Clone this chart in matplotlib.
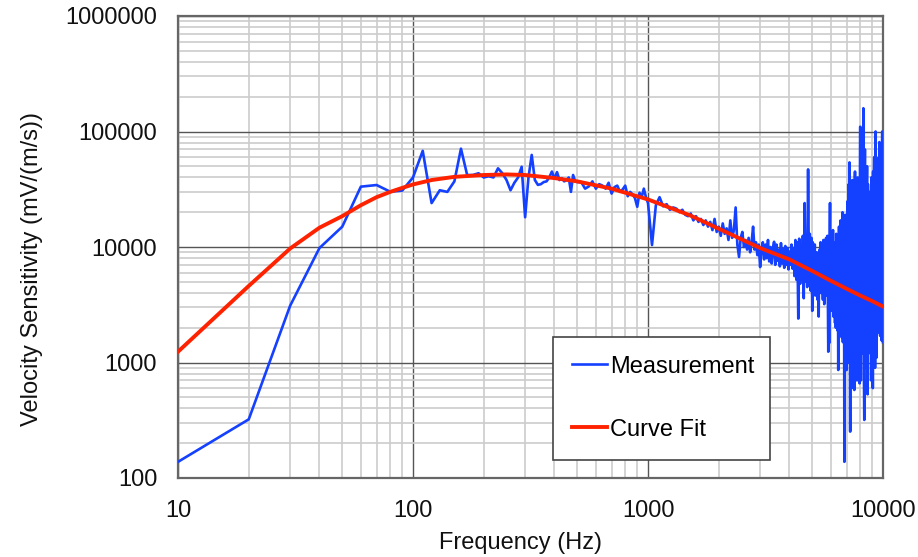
import numpy as np
import matplotlib
matplotlib.use("Agg")
import matplotlib.pyplot as plt
from matplotlib.ticker import FixedLocator, FixedFormatter, NullFormatter, LogLocator

plt.rcParams['font.family'] = ['Liberation Sans', 'DejaVu Sans']

# Measured velocity sensitivity, mV/(m/s), on the analyser's frequency bins
meas_low_hz = np.arange(10, 510, 10)
meas_low = [138, 322, 3100, 9800, 15000, 33300, 34400, 30100, 30800, 40000,
            68000, 24000, 31000, 30000, 37000, 71000, 42000, 42000, 43500, 40000,
            41000, 40000, 48000, 43500, 38000, 31000, 36000, 40000, 49500, 18100,
            40000, 62700, 38000, 34500, 35000, 36500, 37000, 40000, 45000, 39000,
            44500, 38000, 39500, 37000, 38000, 40000, 30000, 42000, 37000, 36500]

meas_mid_hz = np.arange(520, 1020, 20)
meas_mid = [36500, 32000, 33500, 37000, 32000, 35000, 34000, 32000, 36000, 29000,
            33000, 34000, 30000, 31500, 34000, 27500, 30000, 28500, 26500, 22300,
            29500, 27000, 32000, 27000, 24000]

meas_upper_hz = np.arange(1040, 3040, 40)
meas_upper = [10400, 23000, 27000, 22500, 23500, 21000, 22000, 21500, 20000, 21000,
              19000, 18500, 19500, 17000, 18500, 16500, 17500, 15500, 17000, 15000,
              16500, 14000, 17500, 13500, 15000, 12500, 16000, 13000, 14500, 11500,
              17000, 12000, 14000, 22000, 10500, 8200, 12000, 13500, 10000, 11500,
              9500, 12000, 9000, 11000, 15000, 9500, 11000, 8500, 10500, 6700]

meas_high_hz = np.arange(3040, 5040, 40)
meas_high = [9500, 11000, 7800, 10500, 8000, 11500, 7500, 10000, 7200, 9800,
             11100, 7000, 10500, 7600, 9500, 6800, 10800, 7200, 9600, 6600,
             10200, 7000, 9800, 6400, 9130, 7000, 10500, 6500, 9800, 5600,
             11500, 5200, 11000, 2400, 11800, 4800, 10500, 5200, 12500, 3600,
             24000, 5000, 12000, 4500, 47000, 6000, 13000, 4200, 12000, 2800]

meas_top_hz = np.arange(5025, 10025, 25)
meas_top = [11000, 4200, 9500, 5000, 10500, 3800, 8500, 4500, 9000, 6000,
            3480, 8000, 2500, 7500, 9500, 4000, 11000, 5000, 10000, 4000,
            8500, 3500, 11500, 5500, 3200, 9000, 4500, 8000, 12000, 3800,
            9500, 12500, 4000, 1240, 6000, 1470, 10000, 24000, 5000, 3000,
            12000, 2800, 9000, 3500, 14000, 2500, 10000, 3000, 11000, 2200,
            8000, 2000, 13000, 3200, 9800, 1900, 12000, 861, 3000, 15000,
            2500, 10000, 4000, 17000, 2200, 12000, 1650, 9000, 20000, 1500,
            11000, 3000, 9400, 138, 6000, 19000, 1200, 14000, 2500, 860,
            18000, 2200, 25000, 1000, 15000, 35000, 2000, 54000, 3000, 252,
            12000, 24000, 1500, 20000, 800, 38000, 2500, 600, 22000, 30000,
            1800, 578, 26000, 45000, 2000, 800, 25000, 35000, 1500, 700,
            30000, 40000, 2000, 900, 28000, 39000, 1500, 660, 30000, 110000,
            2500, 700, 60000, 20000, 1200, 35000, 90000, 1800, 45000, 159000,
            3000, 700, 318, 25000, 70000, 1500, 900, 30000, 40000, 1200,
            25000, 50000, 2000, 530, 35000, 20000, 1200, 2500, 30000, 1500,
            25000, 2240, 28000, 3000, 20000, 700, 40000, 2000, 25000, 800,
            30000, 600, 45000, 2500, 1000, 35000, 60000, 2000, 30000, 900,
            40000, 100000, 1500, 3000, 1100, 50000, 25000, 2000, 1800, 35000,
            40000, 2500, 3000, 60000, 30000, 81000, 2000, 45000, 1700, 25000,
            1780, 3000, 50000, 20000, 1550, 35000, 100000, 3000, 60000, 1500]

# Fitted sensitivity model evaluated at a few frequencies
fit_hz = [10, 20, 30, 40, 50, 60, 70, 80, 90, 100, 120, 150, 200, 250, 300,
          400, 500, 700, 1000, 1500, 2000, 3000, 4000, 5000, 6000, 7000,
          8000, 9000, 10000]
fit_vals = [1240, 4600, 9700, 14700, 18500, 23000, 27000, 30000, 32500, 34800,
            38000, 40500, 42000, 42500, 42000, 39500, 37000, 32000, 25800,
            18900, 14400, 9800, 7800, 6200, 5100, 4350, 3800, 3400, 3050]

x_ticks = [10, 100, 1000, 10000]
x_tick_labels = ["10", "100", "1000", "10000"]
y_ticks = [100, 1000, 10000, 100000, 1000000]
y_tick_labels = ["100", "1000", "10000", "100000", "1000000"]

freq = np.concatenate([meas_low_hz, meas_mid_hz, meas_upper_hz, meas_high_hz, meas_top_hz])
sens = np.concatenate([meas_low, meas_mid, meas_upper, meas_high, meas_top])

fig = plt.figure(figsize=(9.18, 5.57), dpi=100)
ax = fig.add_axes([178 / 918, 1 - 478 / 557, 705 / 918, 462 / 557])

ax.plot(freq, sens, color="#1440ff", lw=1.9, label="Measurement", zorder=3)
ax.plot(fit_hz, fit_vals, color="#ff2200", lw=2.8, label="Curve Fit", zorder=4)

ax.set_xscale("log")
ax.set_yscale("log")
ax.set_xlim(10, 10000)
ax.set_ylim(100, 1000000)

ax.xaxis.set_major_locator(FixedLocator(x_ticks))
ax.xaxis.set_major_formatter(FixedFormatter(x_tick_labels))
ax.yaxis.set_major_locator(FixedLocator(y_ticks))
ax.yaxis.set_major_formatter(FixedFormatter(y_tick_labels))
ax.xaxis.set_minor_locator(LogLocator(base=10, subs=np.arange(2, 10)))
ax.yaxis.set_minor_locator(LogLocator(base=10, subs=np.arange(2, 10)))
ax.xaxis.set_minor_formatter(NullFormatter())
ax.yaxis.set_minor_formatter(NullFormatter())

ax.grid(which="minor", color="#cccccc", lw=1.2, zorder=0)
ax.grid(which="major", color="#555555", lw=1.0, zorder=1)
ax.set_axisbelow(True)

ax.tick_params(which="both", length=0)
ax.tick_params(axis="x", pad=16, labelsize=17, colors="#111111")
ax.tick_params(axis="y", pad=15, labelsize=17, colors="#111111")

for s in ax.spines.values():
    s.set_color("#666666")
    s.set_linewidth(1.6)

ax.set_xlabel("Frequency (Hz)", fontsize=17, color="#111111")
ax.set_ylabel("Velocity Sensitivity (mV/(m/s))", fontsize=17, color="#111111")
ax.xaxis.set_label_coords(0.4865, -0.117)
ax.yaxis.set_label_coords(-0.192, 0.452)

leg = ax.legend(loc="lower left", bbox_to_anchor=(0.532, 0.04, 0.308, 0.265),
                mode="expand", borderaxespad=0, fontsize=17, frameon=True,
                fancybox=False, edgecolor="#444444", framealpha=1, borderpad=0.8,
                labelspacing=1.74, handlelength=1.5, handletextpad=0.13)
leg.get_frame().set_linewidth(1.2)

fig.savefig("out.png", dpi=100)
